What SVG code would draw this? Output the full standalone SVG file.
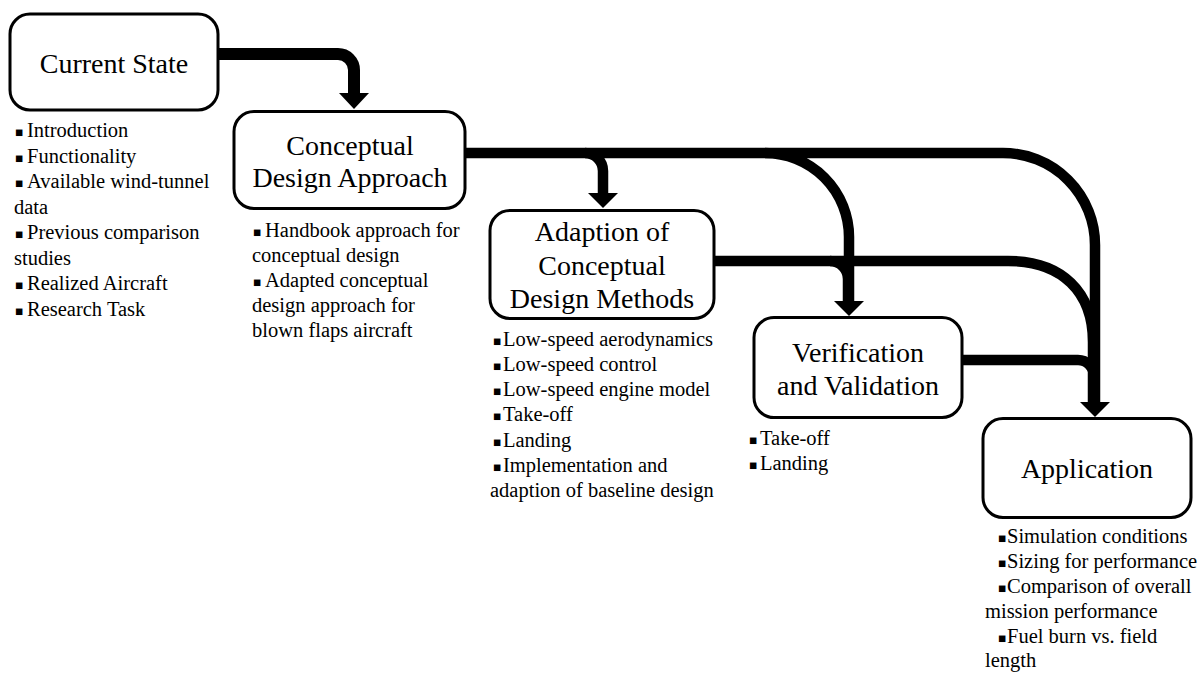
<svg xmlns="http://www.w3.org/2000/svg" width="1197" height="673" viewBox="0 0 1197 673">
  <style>
    .box { fill: #fff; stroke: #000; stroke-width: 3; }
    .title { font-family: "Liberation Serif", "Times New Roman", serif; font-size: 28px; fill: #000; text-anchor: middle; }
    .item { font-family: "Liberation Serif", "Times New Roman", serif; font-size: 20.5px; fill: #000; }
    .bul { font-family: "DejaVu Sans", sans-serif; font-size: 8.5px; fill: #000; }
    .wire { fill: none; stroke: #000; stroke-width: 10.5; }
    .head { fill: #000; }
  </style>
  <rect width="1197" height="673" fill="#fff"/>

  <!-- connectors -->
  <g id="connectors">
    <path class="wire" style="stroke-width:12" d="M216,54 H338 A16,16 0 0 1 354,70 V95"/>
    <polygon class="head" points="339,93 369,93 354,109"/>

    <path class="wire" d="M464,153 H1003 A92,92 0 0 1 1095,245 V404"/>
    <path class="wire" d="M585,153 A18,18 0 0 1 603,171 V195"/>
    <polygon class="head" points="588,193 618,193 603,208"/>
    <path class="wire" d="M765,153 A84,84 0 0 1 849,237 V303"/>

    <path class="wire" d="M713,261 H1008 C1062,261 1093,292 1093,342 V404"/>
    <path class="wire" d="M830,261 A18,18 0 0 1 848,279 V303"/>
    <polygon class="head" points="834,301 864,301 849,316"/>

    <path class="wire" d="M961,360 H1078 A16,16 0 0 1 1094,376 V404"/>
    <polygon class="head" points="1080,402 1110,402 1095,417"/>
  </g>

  <!-- Current State -->
  <g id="current-state">
    <rect class="box" x="10" y="14" width="208" height="96" rx="20"/>
    <text class="title" x="114" y="73">Current State</text>
    <text class="bul" x="15" y="135">■</text><text class="item" x="27" y="137">Introduction</text>
    <text class="bul" x="15" y="160.5">■</text><text class="item" x="27" y="162.5">Functionality</text>
    <text class="bul" x="15" y="186">■</text><text class="item" x="27" y="188">Available wind-tunnel</text>
    <text class="item" x="14" y="213.5">data</text>
    <text class="bul" x="15" y="237">■</text><text class="item" x="27" y="239">Previous comparison</text>
    <text class="item" x="14" y="264.5">studies</text>
    <text class="bul" x="15" y="288">■</text><text class="item" x="27" y="290">Realized Aircraft</text>
    <text class="bul" x="15" y="313.5">■</text><text class="item" x="27" y="315.5">Research Task</text>
  </g>

  <!-- Conceptual Design Approach -->
  <g id="conceptual-design-approach">
    <rect class="box" x="234" y="111.5" width="231" height="97" rx="20"/>
    <text class="title" x="350" y="155">Conceptual</text>
    <text class="title" x="350" y="187">Design Approach</text>
    <text class="bul" x="253" y="235">■</text><text class="item" x="265" y="237">Handbook approach for</text>
    <text class="item" x="252" y="262">conceptual design</text>
    <text class="bul" x="253" y="285">■</text><text class="item" x="265" y="287">Adapted conceptual</text>
    <text class="item" x="252" y="312">design approach for</text>
    <text class="item" x="252" y="337">blown flaps aircraft</text>
  </g>

  <!-- Adaption of Conceptual Design Methods -->
  <g id="adaption-methods">
    <rect class="box" x="490" y="210.5" width="224" height="108" rx="20"/>
    <text class="title" x="602" y="241">Adaption of</text>
    <text class="title" x="602" y="275">Conceptual</text>
    <text class="title" x="602" y="308">Design Methods</text>
    <text class="bul" x="493" y="344">■</text><text class="item" x="503" y="346">Low-speed aerodynamics</text>
    <text class="bul" x="493" y="369">■</text><text class="item" x="503" y="371">Low-speed control</text>
    <text class="bul" x="493" y="394">■</text><text class="item" x="503" y="396">Low-speed engine model</text>
    <text class="bul" x="493" y="419">■</text><text class="item" x="503" y="421">Take-off</text>
    <text class="bul" x="493" y="445">■</text><text class="item" x="503" y="447">Landing</text>
    <text class="bul" x="493" y="470">■</text><text class="item" x="503" y="472">Implementation and</text>
    <text class="item" x="490" y="497">adaption of baseline design</text>
  </g>

  <!-- Verification and Validation -->
  <g id="verification-validation">
    <rect class="box" x="754" y="317.5" width="208" height="100" rx="20"/>
    <text class="title" x="858" y="362">Verification</text>
    <text class="title" x="858" y="395">and Validation</text>
    <text class="bul" x="749" y="443">■</text><text class="item" x="760" y="445">Take-off</text>
    <text class="bul" x="749" y="468">■</text><text class="item" x="760" y="470">Landing</text>
  </g>

  <!-- Application -->
  <g id="application">
    <rect class="box" x="983" y="418.5" width="208" height="99" rx="20"/>
    <text class="title" x="1087" y="478">Application</text>
    <text class="bul" x="998" y="541">■</text><text class="item" x="1007" y="543">Simulation conditions</text>
    <text class="bul" x="998" y="566">■</text><text class="item" x="1007" y="568">Sizing for performance</text>
    <text class="bul" x="998" y="591">■</text><text class="item" x="1007" y="593">Comparison of overall</text>
    <text class="item" x="985" y="618">mission performance</text>
    <text class="bul" x="998" y="641">■</text><text class="item" x="1007" y="643">Fuel burn vs. field</text>
    <text class="item" x="985" y="667">length</text>
  </g>
</svg>
